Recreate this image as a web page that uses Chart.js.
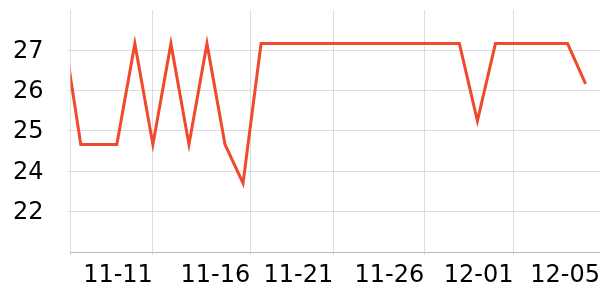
<!DOCTYPE html>
<html>
<head>
<meta charset="utf-8">
<script src="https://cdn.jsdelivr.net/npm/chart.js@4/dist/chart.umd.min.js"></script>
<style>
html,body{margin:0;padding:0;background:#fff;}
#wrap{width:600px;height:300px;}
</style>
</head>
<body>
<div id="wrap"><canvas id="c" width="600" height="300"></canvas></div>
<script>
// Dates (first point lies just before the visible window and is clipped)
const dates = ['11-06','11-07','11-08','11-09','11-10','11-11','11-12','11-13','11-14','11-15',
  '11-16','11-17','11-18','11-19','11-20','11-21','11-22','11-23','11-24','11-25',
  '11-26','11-27','11-28','11-29','11-30','12-01','12-02','12-03','12-04','12-05'];
const values = [27.9, 24.4, 24.4, 24.4, 27.4, 24.4, 27.4, 24.4, 27.4, 24.4,
  23.25, 27.4, 27.4, 27.4, 27.4, 27.4, 27.4, 27.4, 27.4, 27.4,
  27.4, 27.4, 27.4, 25.1, 27.4, 27.4, 27.4, 27.4, 27.4, 26.2];

// x-axis: visible window (in day index units) and tick labels with their day positions
const xWindow = [0.43, 29.8];
const xTickLabels = ['11-11','11-16','11-21','11-26','12-01','12-05'];
const xTickAt = [5, 10.4, 15, 20.05, 25, 29.8];

// y-axis: range and tick values (labels are the rounded tick values)
const yRange = [21.2, 28.4];
const yTickValues = [22.4, 23.6, 24.8, 26.0, 27.2];

const points = values.map((v, i) => ({x: i, y: v}));
const FONT = {family: 'DejaVu Sans', size: 24};

new Chart(document.getElementById('c'), {
  type: 'line',
  data: {
    datasets: [{
      data: points,
      borderColor: '#ee4a2b',
      borderWidth: 3,
      pointRadius: 0,
      tension: 0,
      fill: false,
      clip: 0
    }]
  },
  options: {
    responsive: false,
    animation: false,
    events: [],
    layout: {padding: {top: 10, left: 0, right: 0, bottom: 0}},
    plugins: {legend: {display: false}, tooltip: {enabled: false}},
    scales: {
      x: {
        type: 'linear',
        min: xWindow[0],
        max: xWindow[1],
        afterBuildTicks: (s) => {
          s.ticks = [{value: xWindow[0]}].concat(xTickAt.map(v => ({value: v})));
        },
        afterFit: (s) => { s.height = 48; s.paddingLeft = 0; s.paddingRight = 0; },
        grid: {color: '#dcdcdc', lineWidth: 1, tickLength: 3, drawTicks: true},
        border: {display: true, color: '#b8b8b8', width: 1},
        ticks: {
          autoSkip: false,
          maxRotation: 0,
          align: 'end',
          padding: 6,
          color: '#000',
          font: FONT,
          callback: (v, i) => i === 0 ? '' : xTickLabels[i - 1]
        }
      },
      y: {
        type: 'linear',
        min: yRange[0],
        max: yRange[1],
        afterBuildTicks: (s) => { s.ticks = yTickValues.map(v => ({value: v})); },
        afterFit: (s) => { s.width = 70.5; s.paddingTop = 0; s.paddingBottom = 0; },
        grid: {color: '#dcdcdc', lineWidth: 1, tickLength: 3},
        border: {display: false},
        ticks: {
          padding: 24,
          labelOffset: 1,
          color: '#000',
          font: FONT,
          callback: (v) => String(Math.round(v))
        }
      }
    }
  }
});
</script>
</body>
</html>
